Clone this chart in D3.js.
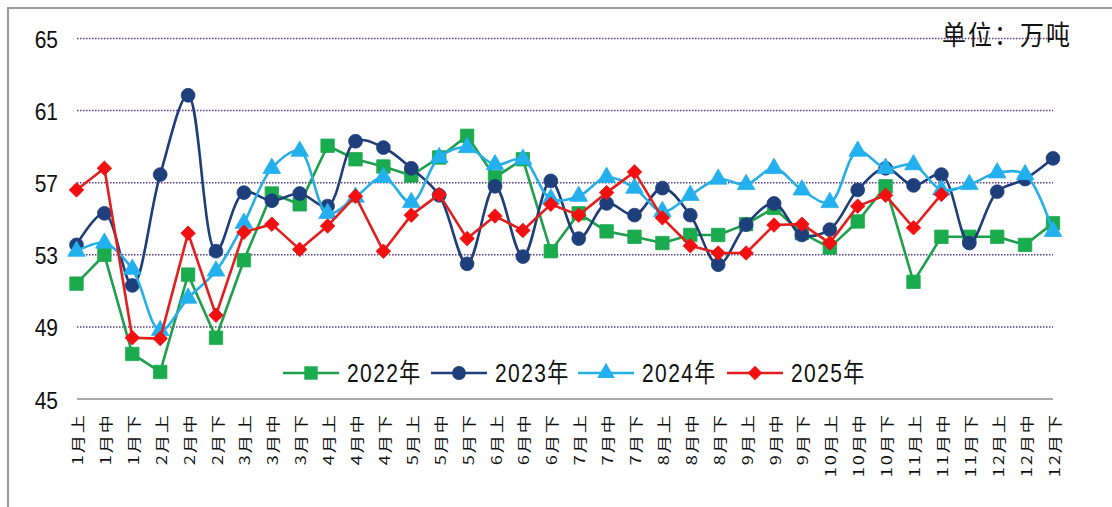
<!DOCTYPE html>
<html><head><meta charset="utf-8">
<script src="https://cdn.jsdelivr.net/npm/d3@7"></script>
<style>
html,body{margin:0;padding:0;background:#fff;}
svg{display:block;}
</style></head>
<body>
<svg id="chart" width="1112" height="507"></svg>
<script>
const categories = ["1月上","1月中","1月下","2月上","2月中","2月下","3月上","3月中","3月下","4月上","4月中","4月下","5月上","5月中","5月下","6月上","6月中","6月下","7月上","7月中","7月下","8月上","8月中","8月下","9月上","9月中","9月下","10月上","10月中","10月下","11月上","11月中","11月下","12月上","12月中","12月下"];
const yTicks = [45, 49, 53, 57, 61, 65];
const s2022 = [51.4,53.0,47.5,46.5,51.9,48.4,52.7,56.4,55.8,59.05,58.3,57.9,57.4,58.4,59.6,57.3,58.3,53.2,55.3,54.3,54.0,53.65,54.1,54.1,54.7,55.6,54.2,53.4,54.85,56.8,51.5,54.0,54.0,54.0,53.55,54.75];
const s2023 = [53.55,55.3,51.3,57.45,61.85,53.2,56.45,56.0,56.4,55.7,59.3,58.95,57.8,56.3,52.5,56.8,52.9,57.1,53.9,55.85,55.2,56.7,55.2,52.45,54.67,55.85,54.1,54.4,56.6,57.8,56.85,57.45,53.65,56.5,57.2,58.35];
const s2024 = [53.2,53.65,52.2,48.8,50.6,52.1,54.75,57.8,58.75,55.3,56.2,57.3,55.9,58.4,58.95,58.0,58.3,56.1,56.25,57.3,56.7,55.4,56.3,57.2,56.9,57.8,56.6,55.9,58.75,57.8,58.0,56.6,56.9,57.55,57.45,54.3];
const s2025 = [56.6,57.8,48.4,48.35,54.2,49.65,54.25,54.7,53.3,54.6,56.25,53.2,55.2,56.35,53.9,55.15,54.35,55.8,55.2,56.45,57.6,55.05,53.5,53.1,53.1,54.65,54.7,53.65,55.7,56.3,54.5,56.35];
const seriesNames = ["2022年","2023年","2024年","2025年"];
const unitLabel = "单位：万吨";

const seriesList = [
  {name: seriesNames[0], values: s2022, color: "#1f9f4c", fill: "#1aab4e", symbol: "square", smooth: false},
  {name: seriesNames[1], values: s2023, color: "#1f3d78", fill: "#1f3f7c", symbol: "circle", smooth: true},
  {name: seriesNames[2], values: s2024, color: "#27aee6", fill: "#22b0ee", symbol: "triangle", smooth: true},
  {name: seriesNames[3], values: s2025, color: "#e41d1d", fill: "#f20f0f", symbol: "diamond", smooth: false}
];

const svg = d3.select("#chart");
const x = d3.scalePoint().domain(categories).range([76.5, 1053]);
const y = d3.scaleLinear().domain([45, 65]).range([399, 38.5]);

// frame
svg.append("path").attr("d", "M8,507 L8,8 L1112,8").attr("fill", "none").attr("stroke", "#9a9a9a").attr("stroke-width", 2);

// gridlines
svg.append("g").selectAll("line").data(yTicks.filter(d => d > 45)).join("line")
  .attr("x1", 77).attr("x2", 1053)
  .attr("y1", d => y(d)).attr("y2", d => y(d))
  .attr("stroke", "#5a3f8c").attr("stroke-width", 1.5).attr("stroke-dasharray", "1.5,1.5");

// y axis labels
const yAxis = d3.axisLeft(y).tickValues(yTicks).tickSize(0).tickPadding(0);
const gy = svg.append("g").attr("transform", "translate(58,0)").call(yAxis);
gy.select(".domain").remove();
gy.selectAll(".tick").each(function() {
  const t = d3.select(this).select("text");
  t.attr("font-family", "Liberation Sans, Arial, sans-serif").attr("font-size", 21).attr("fill", "#111")
    .attr("x", 0).attr("dy", null).attr("y", 0)
    .attr("dominant-baseline", "central")
    .attr("transform", "translate(0,1) scale(1,1.15)");
});

// x axis
const xAxis = d3.axisBottom(x).tickSize(0).tickPadding(0);
const gx = svg.append("g").attr("transform", `translate(0,${y(45)})`).call(xAxis);
gx.select(".domain").attr("stroke", "#8c8c8c").attr("stroke-width", 1.6).attr("d", `M77,0H1053`);
gx.selectAll("text")
  .attr("font-family", "Noto Sans CJK SC, sans-serif").attr("font-size", 14).attr("fill", "#111")
  .attr("letter-spacing", 1.5)
  .attr("text-anchor", "end")
  .attr("transform", "translate(1,14) rotate(-90) scale(1.3,1)")
  .attr("x", 0).attr("y", 0).attr("dy", "0.36em");

function symbolPath(kind, size) {
  if (kind === "square") return d3.symbol(d3.symbolSquare, size)();
  if (kind === "circle") return d3.symbol(d3.symbolCircle, size)();
  if (kind === "triangle") return d3.symbol(d3.symbolTriangle, size)();
  return d3.symbol(d3.symbolSquare, size)();
}
const symSize = {square: 180, circle: 150, triangle: 135, diamond: 105};
const symRot = {square: 0, circle: 0, triangle: 0, diamond: 45};

seriesList.forEach(s => {
  const line = d3.line().x((d, i) => x(categories[i])).y(d => y(d))
    .curve(s.smooth ? d3.curveCatmullRom.alpha(0.5) : d3.curveLinear);
  const g = svg.append("g");
  g.append("path").attr("d", line(s.values)).attr("fill", "none")
    .attr("stroke", s.color).attr("stroke-width", 2.6).attr("stroke-linejoin", "round");
  g.selectAll("path.m").data(s.values).join("path").attr("class", "m")
    .attr("d", symbolPath(s.symbol, symSize[s.symbol]))
    .attr("transform", (d, i) => `translate(${x(categories[i])},${y(d)}) rotate(${symRot[s.symbol]})`)
    .attr("fill", s.fill).attr("stroke", s.fill).attr("stroke-width", 0.8);
});

// legend
const legendX = [283, 431, 578, 727];
const lg = svg.append("g");
seriesList.forEach((s, i) => {
  const g = lg.append("g").attr("transform", `translate(${legendX[i]},373)`);
  g.append("line").attr("x1", 0).attr("x2", 56).attr("y1", 0).attr("y2", 0)
    .attr("stroke", s.color).attr("stroke-width", 2.6);
  g.append("path").attr("d", symbolPath(s.symbol, symSize[s.symbol]))
    .attr("transform", `translate(28,0) rotate(${symRot[s.symbol]})`)
    .attr("fill", s.fill);
  g.append("text").attr("transform", "translate(64,0) scale(1,1.22)")
    .attr("dominant-baseline", "central")
    .attr("font-family", "Liberation Sans, Noto Sans CJK SC, sans-serif").attr("font-size", 21)
    .attr("letter-spacing", 1.4).attr("fill", "#111")
    .text(s.name);
});

// unit label
svg.append("text").attr("transform", "translate(942,45) scale(1,1.12)")
  .attr("font-family", "Noto Sans CJK SC, sans-serif").attr("font-size", 24).attr("letter-spacing", 2).attr("fill", "#111")
  .text(unitLabel);
</script>
</body></html>
